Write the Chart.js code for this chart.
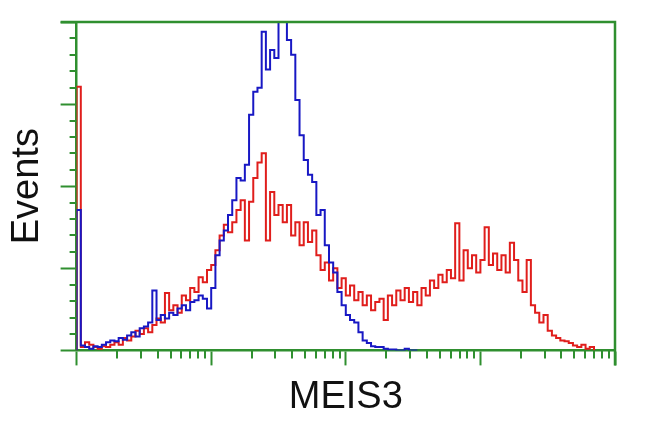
<html><head><meta charset="UTF-8"/>
<title>MEIS3</title>
<script src="https://cdn.jsdelivr.net/npm/chart.js"></script>
<style>
* { margin: 0; padding: 0; box-sizing: border-box; }
body { background: #ffffff; width: 650px; height: 432px; overflow: hidden; }
canvas { display: block; }
</style>
</head>
<body>
<canvas id="histChart" width="650" height="432"></canvas>
<script>
// histogram channels: 32 per decade, 4 decades (1 .. 10^4)
const channelsPerDecade = 32;
const xDecades = [1, 10, 100, 1000, 10000];
const xMinorSteps = [2, 3, 4, 5, 6, 7, 8, 9];
const yMajorTicks = [0, 100, 200, 300, 400];
const yMinorStep = 20;

// counts per channel
const blueCounts = [
    171, 6, 4, 2, 5, 4, 7, 10, 12, 11,
    15, 13, 18, 22, 17, 27, 29, 34, 73, 37,
    43, 39, 46, 43, 51, 55, 49, 59, 61, 67,
    63, 51, 76, 116, 134, 146, 165, 183, 210, 207,
    226, 287, 315, 320, 388, 342, 366, 356, 409, 415,
    378, 360, 305, 262, 232, 214, 205, 165, 171, 128,
    107, 95, 71, 55, 43, 37, 34, 22, 12, 9,
    5, 4, 4, 2, 1, 1, 0, 0, 2, 0, 0
];
const redCounts = [
    321, 4, 10, 7, 4, 2, 5, 4, 7, 10,
    7, 15, 12, 17, 24, 20, 27, 22, 31, 39,
    34, 70, 49, 55, 46, 67, 61, 76, 71, 89,
    83, 98, 104, 122, 140, 153, 144, 156, 171, 183,
    134, 181, 210, 229, 240, 134, 193, 165, 177, 156,
    177, 140, 156, 128, 156, 132, 146, 116, 98, 107,
    85, 100, 76, 88, 67, 79, 61, 71, 55, 67,
    49, 59, 63, 37, 67, 55, 73, 61, 76, 59,
    71, 55, 76, 67, 85, 76, 92, 83, 98, 88,
    155, 85, 122, 100, 116, 95, 110, 150, 104, 118,
    98, 116, 95, 131, 110, 85, 71, 110, 55, 46,
    34, 43, 24, 18, 15, 12, 11, 9, 6, 4,
    7, 2, 4
];

const GREEN = '#2f8f2f';
const FONT = "'Liberation Sans', Arial, sans-serif";

// channel c -> left edge of its bin on the log axis
function histPoints(counts) {
    const pts = [{ x: 1, y: 0 }];
    counts.forEach((v, c) => pts.push({ x: Math.pow(10, c / channelsPerDecade), y: v }));
    pts.push({ x: Math.pow(10, counts.length / channelsPerDecade), y: 0 });
    return pts;
}

const xTickValues = [];
xDecades.forEach((d, i) => {
    xTickValues.push(d);
    if (i < xDecades.length - 1) xMinorSteps.forEach(m => xTickValues.push(d * m));
});
const yTickValues = [];
for (let v = yMajorTicks[0]; v <= yMajorTicks[yMajorTicks.length - 1]; v += yMinorStep) yTickValues.push(v);

const isMajorX = v => Math.abs(Math.log10(v) - Math.round(Math.log10(v))) < 1e-9;
const isMajorY = v => yMajorTicks.includes(v);

// top/right frame and the short minor ticks
const frameTicks = {
    id: 'frameTicks',
    afterDraw(chart) {
        const { ctx, chartArea: a, scales: { x, y } } = chart;
        ctx.save();
        ctx.strokeStyle = GREEN;
        ctx.lineWidth = 2.5;
        ctx.beginPath();
        ctx.moveTo(a.left - 16, a.top);
        ctx.lineTo(a.right, a.top);
        ctx.lineTo(a.right, a.bottom + 15);
        ctx.stroke();
        ctx.lineWidth = 2;
        ctx.beginPath();
        x.ticks.forEach(t => {
            if (isMajorX(t.value)) return;
            const px = Math.round(x.getPixelForValue(t.value));
            ctx.moveTo(px, a.bottom);
            ctx.lineTo(px, a.bottom + 8);
        });
        y.ticks.forEach(t => {
            if (isMajorY(t.value)) return;
            const py = Math.round(y.getPixelForValue(t.value));
            ctx.moveTo(a.left, py);
            ctx.lineTo(a.left - 7, py);
        });
        ctx.stroke();
        ctx.restore();
    }
};

new Chart(document.getElementById('histChart'), {
    type: 'line',
    data: {
        datasets: [{
            label: 'MEIS3 control',
            data: histPoints(blueCounts),
            borderColor: '#1818c4',
            borderWidth: 2
        }, {
            label: 'MEIS3',
            data: histPoints(redCounts),
            borderColor: '#e01e1c',
            borderWidth: 2
        }]
    },
    options: {
        responsive: false,
        animation: false,
        layout: { padding: { left: 0, right: 35, top: 22, bottom: 8 }, autoPadding: false },
        plugins: { legend: { display: false }, tooltip: { enabled: false } },
        elements: {
            point: { radius: 0 },
            line: { stepped: true, fill: false }
        },
        scales: {
            x: {
                type: 'logarithmic',
                min: 1,
                max: 10000,
                afterBuildTicks: s => { s.ticks = xTickValues.map(v => ({ value: v })); },
                ticks: { display: false },
                grid: {
                    drawOnChartArea: false,
                    tickLength: 15,
                    tickWidth: 2,
                    tickColor: c => (c.tick && isMajorX(c.tick.value)) ? GREEN : 'rgba(0,0,0,0)'
                },
                border: { color: GREEN, width: 2.5 },
                title: {
                    display: true,
                    text: 'MEIS3',
                    color: '#111111',
                    font: { family: FONT, size: 38, lineHeight: 1.2 },
                    padding: { top: 9, bottom: 4 }
                }
            },
            y: {
                type: 'linear',
                min: 0,
                max: 400,
                afterBuildTicks: s => { s.ticks = yTickValues.map(v => ({ value: v })); },
                ticks: { display: false },
                grid: {
                    drawOnChartArea: false,
                    tickLength: 16,
                    tickWidth: 2,
                    tickColor: c => (c.tick && isMajorY(c.tick.value)) ? GREEN : 'rgba(0,0,0,0)'
                },
                border: { color: GREEN, width: 2.5 },
                title: {
                    display: true,
                    text: 'Events',
                    color: '#111111',
                    font: { family: FONT, size: 38, lineHeight: 1.2 },
                    padding: { top: 5, bottom: 10 }
                }
            }
        }
    },
    plugins: [frameTicks]
});
</script>
</body></html>
